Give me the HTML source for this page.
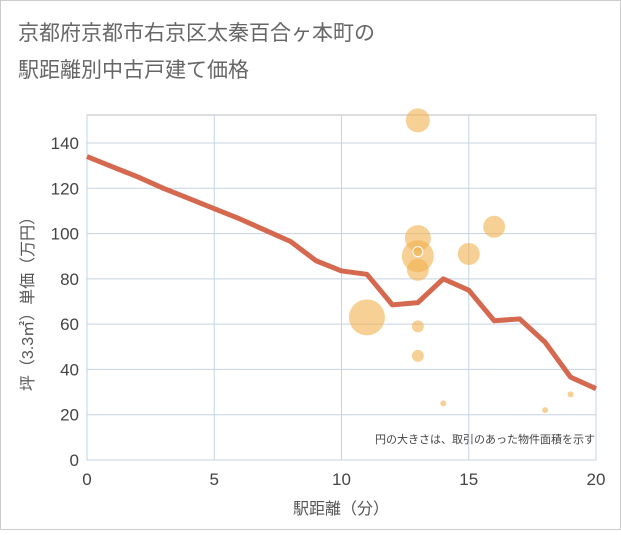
<!DOCTYPE html>
<html><head><meta charset="utf-8"><style>
body{margin:0;background:#fff;font-family:"Liberation Sans","Noto Sans CJK JP",sans-serif}
</style></head><body>
<svg width="621" height="530" xmlns="http://www.w3.org/2000/svg" font-family="Liberation Sans, Noto Sans CJK JP, sans-serif">
<rect x="0.5" y="0.5" width="620" height="529" fill="#fff" stroke="#ccc"/>
<text x="18" y="40" font-size="21" fill="#666">京都府京都市右京区太秦百合ヶ本町の</text>
<text x="18" y="77" font-size="21" fill="#666">駅距離別中古戸建て価格</text>
<g id="grid"></g>
<g id="axes"></g>
<g id="bubbles"></g>
<g id="line"></g>
<text x="595" y="443" font-size="11" fill="#444" text-anchor="end">円の大きさは、取引のあった物件面積を示す</text>
<text x="341" y="514" font-size="16" fill="#555" text-anchor="middle">駅距離（分）</text>
<text transform="translate(33,300) rotate(-90)" font-size="16" fill="#555" text-anchor="middle">坪（3.3㎡）単価（万円）</text>
</svg>
<script>
const xTicks=[0,5,10,15,20];
const yTicks=[0,20,40,60,80,100,120,140];
const lineX=[0,1,2,3,4,5,6,7,8,9,10,11,12,13,14,15,16,17,18,19,20];
const lineY=[134,129.5,125,120,115.5,111,106.5,101.5,96.5,88,83.5,82,68.5,69.5,80,75,61.5,62.3,52,36.6,31.5];
const bubX=[13,11,13,13,13,15,16,13,13,14,18,19,13];
const bubY=[150,63,98,90,84,91,103,59,46,25,22,29,92];
const bubR=[12,18,13,16,11,11,11,6,6,3,3,3,5];
const X0=87,X1=596,Y0=460,Y1=115;
const sx=v=>X0+(v-0)/20*(X1-X0);
const sy=v=>Y0-v/140*(Y0-143);
const NS="http://www.w3.org/2000/svg";
function mk(t,a,p){const e=document.createElementNS(NS,t);for(const k in a)e.setAttribute(k,a[k]);p.appendChild(e);return e;}
const g=document.getElementById('grid'),ax=document.getElementById('axes');
const bg=mk('rect',{x:X0,y:Y1,width:X1-X0,height:Y0-Y1,fill:'#fff',stroke:'#bbb'},g);


xTicks.forEach(v=>{
 const l=mk('line',{x1:sx(v),x2:sx(v),y1:Y1,y2:Y0,stroke:'#c5d3e2','stroke-width':1},g);
 
 
 const t=mk('text',{x:sx(v),y:Y0+25,'font-size':17,fill:'#444','text-anchor':'middle'},ax);
 t.textContent=v;
 
 
});
yTicks.forEach(v=>{
 const l=mk('line',{x1:X0,x2:X1,y1:sy(v),y2:sy(v),stroke:'#c5d3e2','stroke-width':1},g);
 
 
 const t=mk('text',{x:X0-8,y:sy(v)+6,'font-size':17,fill:'#444','text-anchor':'end'},ax);
 t.textContent=v;
 
 
});
const b=document.getElementById('bubbles');
bubX.forEach((v,i)=>{
 const c=mk('circle',{cx:sx(v),cy:sy(bubY[i]),r:bubR[i],fill:'#f2b04f','fill-opacity':0.6,stroke:i==12?'#fff':'none','stroke-width':1},b);
 
 
});
const p=mk('polyline',{points:lineX.map((v,i)=>sx(v)+','+sy(lineY[i])).join(' '),fill:'none',stroke:'#d4694f','stroke-width':5,'stroke-linejoin':'round'},document.getElementById('line'));


</script>
</body></html>
